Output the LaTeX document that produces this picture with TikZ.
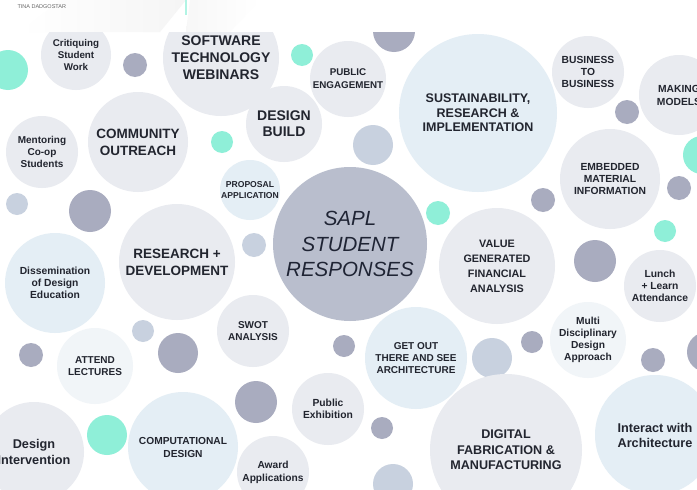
\documentclass[tikz,border=0pt]{standalone}
\usepackage{fontspec}
\setmainfont{Liberation Sans}
\definecolor{bubgrey}{HTML}{E9EBF0}
\definecolor{bubblue}{HTML}{E4EEF5}
\definecolor{bubpale}{HTML}{F1F5F8}
\definecolor{coregrey}{HTML}{B9BECD}
\definecolor{dotgrey}{HTML}{A9ACBF}
\definecolor{dotpale}{HTML}{C8D1DF}
\definecolor{dotteal}{HTML}{8FEFD8}
\definecolor{inkdark}{HTML}{22252F}
\definecolor{inkcore}{HTML}{1F2434}
\tikzset{
  bubble/.style={circle, fill=bubgrey, inner sep=0pt, align=center, text=inkdark},
  bluebubble/.style={bubble, fill=bubblue},
  palebubble/.style={bubble, fill=bubpale},
  bsize/.style={font=\bfseries\fontsize{#1}{12}\selectfont},
}
\begin{document}
\begin{tikzpicture}[x=1pt,y=-1pt]
    \useasboundingbox (0,0) rectangle (697,490);
    \fill[white] (0,0) rectangle (697,490);
    % header strip
    \shade[left color=white, right color=black!4] (60,0) -- (186,0) -- (160,32) -- (20,32) -- cycle;
    \shade[left color=black!3, right color=white] (190,0) -- (260,0) -- (230,32) -- (186,32) -- cycle;
    \draw[dotteal!70, line width=2pt] (186,0) -- (186,15);
    \node[text=black!60, font=\fontsize{5.5}{6}\selectfont, anchor=west] (author) at (14,7) {TINA DADGOSTAR};
    \begin{scope}
    \clip (0,32) rectangle (697,490);
    % small dots
    \foreach \x/\y/\r in {8/70/20, 302/55/11, 222/142/11, 438/213/12, 665/231/11, 702/155/19, 107/435/20}
        \fill[dotteal] (\x,\y) circle (\r);
    \foreach \x/\y/\r in {135/65/12, 394/31/21, 627/112/12, 679/188/12, 543/200/12, 90/211/21,
        595/261/21, 178/353/20, 31/355/12, 344/346/11, 532/342/11, 653/360/12, 707/352/20,
        256/402/21, 382/428/11}
        \fill[dotgrey] (\x,\y) circle (\r);
    \foreach \x/\y/\r in {373/145/20, 17/204/11, 254/245/12, 143/331/11, 492/358/20, 393/484/20}
        \fill[dotpale] (\x,\y) circle (\r);
    % labelled bubbles
    \node[bubble, minimum size=70pt, bsize=9.8] (critique) at (76,55) {Critiquing\\Student\\Work};
    \node[bubble, minimum size=116pt, font=\bfseries\fontsize{14}{17}\selectfont] (webinars) at (221,58) {SOFTWARE\\TECHNOLOGY\\WEBINARS};
    \node[bubble, minimum size=76pt, font=\bfseries\fontsize{9.8}{13}\selectfont] (engage) at (348,79) {PUBLIC\\ENGAGEMENT};
    \node[bluebubble, minimum size=158pt, font=\bfseries\fontsize{12.5}{14.5}\selectfont] (sustain) at (478,113) {SUSTAINABILITY,\\RESEARCH \&\\IMPLEMENTATION};
    \node[bubble, minimum size=72pt, bsize=10.3] (business) at (588,72) {BUSINESS\\TO\\BUSINESS};
    \node[bubble, minimum size=80pt, font=\bfseries\fontsize{10.3}{13}\selectfont] (models) at (679,95) {MAKING\\MODELS};
    \node[bubble, minimum size=100pt, bsize=10.3] (embedded) at (610,179) {EMBEDDED\\MATERIAL\\INFORMATION};
    \node[bubble, minimum size=72pt, bsize=10] (mentor) at (42,152) {Mentoring\\Co-op\\Students};
    \node[bubble, minimum size=100pt, font=\bfseries\fontsize{13.5}{17}\selectfont] (outreach) at (138,142) {COMMUNITY\\OUTREACH};
    \node[bubble, minimum size=76pt, font=\bfseries\fontsize{14}{16}\selectfont] (build) at (284,124) {DESIGN\\BUILD};
    \node[bluebubble, minimum size=60pt, font=\bfseries\fontsize{8.6}{11}\selectfont] (proposal) at (250,190) {PROPOSAL\\APPLICATION};
    \node[bubble, fill=coregrey, minimum size=154pt, text=inkcore, font=\itshape\fontsize{20.5}{25.5}\selectfont] (sapl) at (350,244) {SAPL\\STUDENT\\RESPONSES};
    \node[bubble, minimum size=116pt, font=\bfseries\fontsize{13.5}{17}\selectfont] (research) at (177,262) {RESEARCH +\\DEVELOPMENT};
    \node[bluebubble, minimum size=100pt, bsize=10.3] (dissem) at (55,283) {Dissemination\\of Design\\Education};
    \node[bubble, minimum size=116pt, font=\bfseries\fontsize{10.8}{15}\selectfont] (value) at (497,266) {VALUE\\GENERATED\\FINANCIAL\\ANALYSIS};
    \node[bubble, minimum size=72pt, bsize=10.3] (lunch) at (660,286) {Lunch\\+ Learn\\Attendance};
    \node[bubble, minimum size=72pt, bsize=10] (swot) at (253,331) {SWOT\\ANALYSIS};
    \node[palebubble, minimum size=76pt, bsize=10] (lectures) at (95,366) {ATTEND\\LECTURES};
    \node[bluebubble, minimum size=102pt, bsize=10] (getout) at (416,358) {GET OUT\\THERE AND SEE\\ARCHITECTURE};
    \node[palebubble, minimum size=76pt, bsize=10.2] (multi) at (588,340) {Multi\\Disciplinary\\Design\\Approach};
    \node[bubble, minimum size=72pt, font=\bfseries\fontsize{10.3}{11.5}\selectfont] (exhibit) at (328,409) {Public\\Exhibition};
    \node[bubble, minimum size=152pt, font=\bfseries\fontsize{12.6}{15.5}\selectfont] (digital) at (506,450) {DIGITAL\\FABRICATION \&\\MANUFACTURING};
    \node[bluebubble, minimum size=120pt, font=\bfseries\fontsize{12.7}{15}\selectfont] (interact) at (655,435) {Interact with\\Architecture};
    \node[bubble, minimum size=100pt, font=\bfseries\fontsize{12.7}{16}\selectfont] (intervene) at (34,452) {Design\\Intervention};
    \node[bluebubble, minimum size=110pt, font=\bfseries\fontsize{10.2}{13}\selectfont] (computational) at (183,447) {COMPUTATIONAL\\DESIGN};
    \node[bubble, minimum size=72pt, font=\bfseries\fontsize{10.2}{13}\selectfont] (award) at (273,472) {Award\\Applications};
    \end{scope}
\end{tikzpicture}
\end{document}
